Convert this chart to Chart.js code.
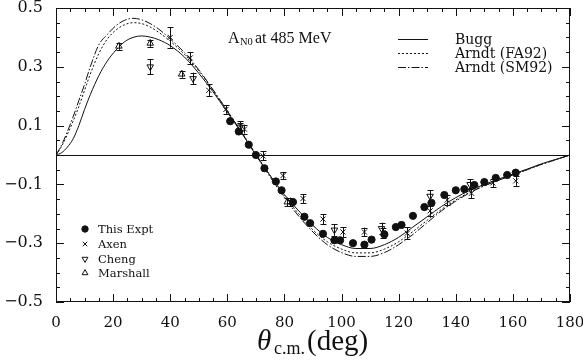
<!DOCTYPE html>
<html>
<head>
<meta charset="utf-8">
<script src="https://cdn.jsdelivr.net/npm/chart.js@4.4.0/dist/chart.umd.min.js"></script>
<style>
  html, body { margin: 0; padding: 0; background: #fff; }
  #wrap { width: 583px; height: 360px; }
</style>
</head>
<body>
<div id="wrap"><canvas id="lineChart" width="583" height="360"></canvas></div>
<script>
// model curves (theta in deg)
const curveAngles = [0, 2, 4, 6, 8, 10, 12, 15, 18, 21, 24, 27, 30, 33, 36, 40, 45, 50, 55, 60, 65, 70, 75, 80, 85, 90, 95, 100, 105, 110, 115, 120, 125, 130, 135, 140, 145, 150, 155, 160, 165, 170, 175, 180];
const bugg = [0, 0.008, 0.027, 0.055, 0.1, 0.155, 0.205, 0.27, 0.32, 0.357, 0.385, 0.4, 0.405, 0.401, 0.392, 0.372, 0.333, 0.278, 0.215, 0.145, 0.075, 0.0, -0.07, -0.135, -0.19, -0.24, -0.28, -0.305, -0.318, -0.318, -0.305, -0.28, -0.245, -0.21, -0.175, -0.145, -0.12, -0.1, -0.082, -0.065, -0.048, -0.03, -0.015, 0];
const fa92 = [0, 0.03, 0.07, 0.115, 0.165, 0.22, 0.275, 0.345, 0.395, 0.425, 0.443, 0.45, 0.447, 0.435, 0.417, 0.387, 0.342, 0.286, 0.22, 0.15, 0.078, 0.003, -0.07, -0.14, -0.2, -0.255, -0.295, -0.32, -0.333, -0.333, -0.32, -0.295, -0.26, -0.222, -0.185, -0.153, -0.126, -0.104, -0.085, -0.067, -0.05, -0.032, -0.016, 0];
const sm92 = [0, 0.035, 0.08, 0.13, 0.185, 0.24, 0.3, 0.375, 0.41, 0.44, 0.458, 0.465, 0.46, 0.447, 0.428, 0.395, 0.348, 0.29, 0.222, 0.15, 0.077, 0.0, -0.075, -0.145, -0.208, -0.262, -0.305, -0.332, -0.345, -0.345, -0.332, -0.305, -0.27, -0.23, -0.19, -0.157, -0.128, -0.105, -0.086, -0.068, -0.05, -0.032, -0.016, 0];

// measurements
const thisX = [61, 64, 67.5, 70, 73, 77, 79, 83, 87, 89, 93.5, 97.5, 99.5, 104, 108, 110.5, 115, 119, 121, 125, 129, 131.5, 136, 140, 143, 146.5, 150, 154, 158, 161];
const thisY = [0.115, 0.08, 0.035, 0.0, -0.045, -0.09, -0.12, -0.16, -0.21, -0.232, -0.268, -0.29, -0.29, -0.3, -0.305, -0.288, -0.27, -0.245, -0.238, -0.207, -0.177, -0.163, -0.136, -0.12, -0.116, -0.102, -0.092, -0.078, -0.068, -0.06];

const axenX = [40, 47, 53.5, 59.5, 64.5, 66, 72.5, 79.5, 82, 86.5, 93.5, 100.5, 108, 114.5, 123, 131, 137, 145.5, 153, 161];
const axenY = [0.4, 0.33, 0.22, 0.155, 0.1, 0.088, -0.003, -0.07, -0.16, -0.148, -0.218, -0.262, -0.262, -0.265, -0.266, -0.19, -0.153, -0.13, -0.095, -0.088];
const axenErr = [0.035, 0.02, 0.02, 0.015, 0.015, 0.015, 0.015, 0.012, 0.015, 0.015, 0.017, 0.017, 0.015, 0.017, 0.02, 0.017, 0.017, 0.017, 0.015, 0.017];

const chengX = [33, 48, 64.5, 97.5, 114, 131, 145];
const chengY = [0.3, 0.26, 0.095, -0.255, -0.25, -0.14, -0.1];
const chengErr = [0.025, 0.02, 0.015, 0.02, 0.02, 0.02, 0.017];

const marshX = [22, 33, 44, 81];
const marshY = [0.37, 0.38, 0.275, -0.16];
const marshErr = [0.012, 0.012, 0.012, 0.015];

const xTickValues = [0, 20, 40, 60, 80, 100, 120, 140, 160, 180];
const yTickValues = [-0.5, -0.3, -0.1, 0.1, 0.3, 0.5];

const curveNames = ['Bugg', 'Arndt (FA92)', 'Arndt (SM92)'];
const pointNames = ['This Expt', 'Axen', 'Cheng', 'Marshall'];

const INK = '#111';
const pts = (xs, ys) => xs.map((v, i) => ({ x: v, y: ys[i] }));

const pointStyles = [
  { pointStyle: 'circle', radius: 3.6, rotation: 0, backgroundColor: INK, borderColor: INK, borderWidth: 1 },
  { pointStyle: 'crossRot', radius: 3.6, rotation: 0, backgroundColor: INK, borderColor: INK, borderWidth: 1 },
  { pointStyle: 'triangle', radius: 3.8, rotation: 180, backgroundColor: '#fff', borderColor: INK, borderWidth: 1 },
  { pointStyle: 'triangle', radius: 3.8, rotation: 0, backgroundColor: '#fff', borderColor: INK, borderWidth: 1 }
];
const lineDashes = [[], [2, 2], [8, 2, 1.5, 2]];

function pointSet(label, data, st, errs) {
  return {
    type: 'scatter', label, data, errs,
    pointStyle: st.pointStyle, pointRadius: st.radius, pointRotation: st.rotation,
    pointBackgroundColor: st.backgroundColor, pointBorderColor: st.borderColor,
    pointBorderWidth: st.borderWidth, showLine: false
  };
}
function curveSet(label, ys, dash) {
  return {
    type: 'line', label, data: pts(curveAngles, ys),
    borderColor: INK, borderWidth: 1, borderDash: dash,
    pointRadius: 0, fill: false, cubicInterpolationMode: 'monotone'
  };
}

const framePlugin = {
  id: 'frame',
  beforeDatasetsDraw(chart) {
    const { ctx, chartArea: a, scales: { x, y } } = chart;
    ctx.save();
    ctx.strokeStyle = INK;
    ctx.lineWidth = 1;
    const seg = (x1, y1, x2, y2) => { ctx.beginPath(); ctx.moveTo(x1, y1); ctx.lineTo(x2, y2); ctx.stroke(); };
    const y0 = Math.round(y.getPixelForValue(0)) + 0.5;
    seg(a.left, y0, a.right, y0);
    ctx.strokeRect(a.left + 0.5, a.top + 0.5, a.right - a.left - 1, a.bottom - a.top - 1);
    for (let v = 0; v <= 180; v += 5) {
      const px = Math.round(x.getPixelForValue(v)) + 0.5;
      const len = v % 20 === 0 ? 8 : 4;
      seg(px, a.bottom, px, a.bottom - len);
      seg(px, a.top, px, a.top + len);
    }
    for (let i = -10; i <= 10; i++) {
      const py = Math.round(y.getPixelForValue(i * 0.05)) + 0.5;
      const len = Math.abs(i) % 4 === 2 ? 8 : 4;
      seg(a.left, py, a.left + len, py);
      seg(a.right, py, a.right - len, py);
    }
    ctx.restore();
  },
  afterDatasetsDraw(chart) {
    const { ctx, scales: { x, y } } = chart;
    ctx.save();
    ctx.strokeStyle = INK;
    ctx.lineWidth = 1;
    chart.data.datasets.forEach(ds => {
      if (!ds.errs) return;
      ds.data.forEach((p, i) => {
        const e = ds.errs[i];
        const px = Math.round(x.getPixelForValue(p.x)) + 0.5;
        const top = y.getPixelForValue(p.y + e), bot = y.getPixelForValue(p.y - e);
        ctx.beginPath();
        ctx.moveTo(px, top); ctx.lineTo(px, bot);
        ctx.moveTo(px - 3, Math.round(top) + 0.5); ctx.lineTo(px + 3, Math.round(top) + 0.5);
        ctx.moveTo(px - 3, Math.round(bot) + 0.5); ctx.lineTo(px + 3, Math.round(bot) + 0.5);
        ctx.stroke();
      });
    });
    ctx.restore();
  },
  afterDraw(chart) {
    const { ctx } = chart;
    ctx.save();
    ctx.fillStyle = INK;
    ctx.strokeStyle = INK;
    ctx.textBaseline = 'alphabetic';
    ctx.textAlign = 'left';

    // annotation
    ctx.font = '16px "Liberation Serif"';
    ctx.fillText('A', 228, 43);
    ctx.font = '10.5px "Liberation Serif"';
    ctx.fillText('N0', 240, 45);
    ctx.font = '16px "Liberation Serif"';
    ctx.fillText('at 485 MeV', 255, 43);

    // curve legend
    const rowsC = [39.5, 53.5, 67.5];
    ctx.font = '14px "DejaVu Serif"';
    curveNames.forEach((n, i) => {
      ctx.save();
      ctx.lineWidth = 1;
      ctx.setLineDash(lineDashes[i]);
      ctx.beginPath(); ctx.moveTo(398, rowsC[i]); ctx.lineTo(428, rowsC[i]); ctx.stroke();
      ctx.restore();
      ctx.fillText(n, 455, rowsC[i] + 4);
    });

    // point legend
    const rowsP = [229, 244, 259, 273];
    ctx.font = '11.5px "DejaVu Serif"';
    pointNames.forEach((n, i) => {
      const st = pointStyles[i];
      ctx.save();
      ctx.fillStyle = st.backgroundColor;
      ctx.strokeStyle = st.borderColor;
      ctx.lineWidth = st.borderWidth;
      Chart.helpers.drawPoint(ctx, { pointStyle: st.pointStyle, radius: st.radius - 0.4, rotation: st.rotation, borderWidth: 1 }, 85, rowsP[i]);
      ctx.restore();
      ctx.fillText(n, 98, rowsP[i] + 4);
    });

    // axis title
    ctx.font = 'italic 29px "Liberation Serif"';
    ctx.fillText('θ', 257, 350);
    ctx.font = '18px "Liberation Serif"';
    ctx.fillText('c.m.', 274, 354);
    ctx.font = '29px "Liberation Serif"';
    ctx.fillText('(deg)', 307, 350);
    ctx.restore();
  }
};

const fmt = v => (v < 0 ? '\u2212' : '') + Math.abs(v).toFixed(1);

const ctx = document.getElementById('lineChart');
const myChart = new Chart(ctx, {
  type: 'scatter',
  data: {
    datasets: [
      pointSet(pointNames[0], pts(thisX, thisY), pointStyles[0], null),
      pointSet(pointNames[1], pts(axenX, axenY), pointStyles[1], axenErr),
      pointSet(pointNames[2], pts(chengX, chengY), pointStyles[2], chengErr),
      pointSet(pointNames[3], pts(marshX, marshY), pointStyles[3], marshErr),
      curveSet(curveNames[0], bugg, lineDashes[0]),
      curveSet(curveNames[1], fa92, lineDashes[1]),
      curveSet(curveNames[2], sm92, lineDashes[2])
    ]
  },
  options: {
    responsive: false,
    animation: false,
    devicePixelRatio: 1,
    layout: { padding: { top: 8, right: 13, left: 0, bottom: 0 } },
    plugins: { legend: { display: false }, tooltip: { enabled: false } },
    scales: {
      x: {
        type: 'linear', min: 0, max: 180,
        afterBuildTicks: s => { s.ticks = xTickValues.map(v => ({ value: v })); },
        afterFit: s => { s.height = 58; s.paddingLeft = 0; s.paddingRight = 0; },
        grid: { display: false, drawTicks: false },
        border: { display: false },
        ticks: { padding: 12, color: INK, autoSkip: false, maxRotation: 0, font: { family: 'DejaVu Serif', size: 15 } }
      },
      y: {
        type: 'linear', min: -0.5, max: 0.5,
        afterBuildTicks: s => { s.ticks = yTickValues.map(v => ({ value: v })); },
        afterFit: s => { s.width = 56; s.paddingTop = 0; s.paddingBottom = 0; },
        grid: { display: false, drawTicks: false },
        border: { display: false },
        ticks: { padding: 13, color: INK, callback: v => fmt(v), font: { family: 'DejaVu Serif', size: 16 } }
      }
    }
  },
  plugins: [framePlugin]
});
</script>
</body>
</html>
